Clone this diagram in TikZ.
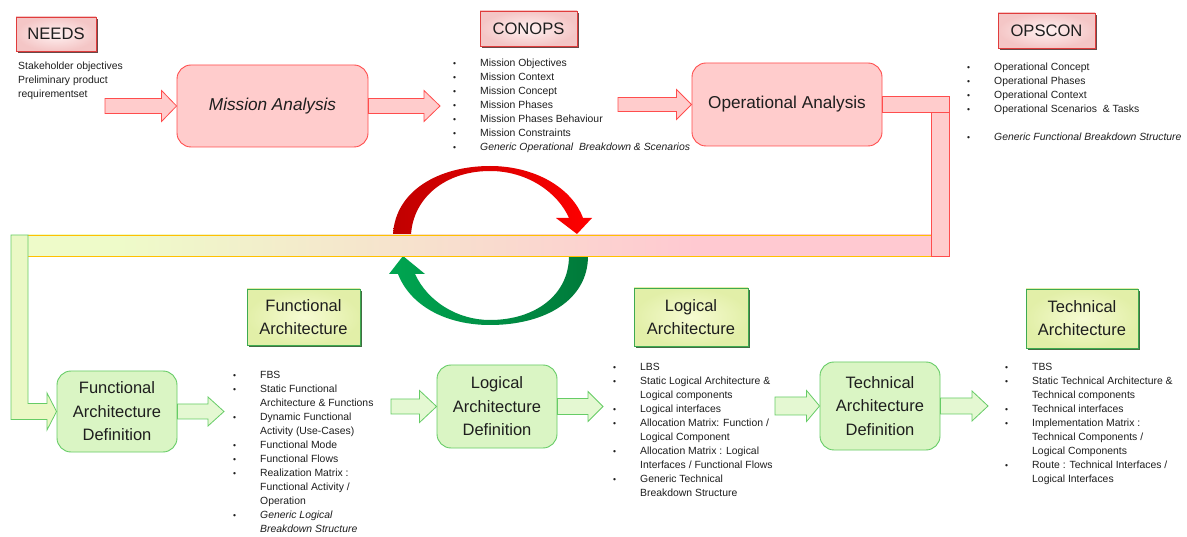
\documentclass[tikz,border=0pt]{standalone}
\usepackage{fontspec}
\setmainfont{Liberation Sans}
\usetikzlibrary{calc,shadows}
\definecolor{pinkfill}{HTML}{FFCCCC}
\definecolor{pinkline}{HTML}{FF4D4D}
\definecolor{grfill}{HTML}{DAF5C4}
\definecolor{grline}{HTML}{66CC66}
\definecolor{garfill}{HTML}{E4F8D2}
\definecolor{bandgreen}{HTML}{EEFBC9}
\definecolor{bandpink}{HTML}{FFC9D1}
\definecolor{orangeline}{HTML}{FFC000}
\definecolor{lbandfill}{HTML}{EAF8C5}
\definecolor{tgin}{HTML}{F6FBD2}
\definecolor{tgout}{HTML}{E2EFA8}
\definecolor{tgline}{HTML}{3DAA50}
\definecolor{tgshadow}{HTML}{2E5E2E}
\definecolor{tpin}{HTML}{FFF2F2}
\definecolor{tpout}{HTML}{F4C6C6}
\definecolor{tpline}{HTML}{E03C3C}
\definecolor{tpshadow}{HTML}{5B3535}
\definecolor{redA}{HTML}{C00000}
\definecolor{redB}{HTML}{FF0000}
\definecolor{greenA}{HTML}{00A651}
\definecolor{greenB}{HTML}{007A3A}
\definecolor{txt}{HTML}{1E1E1E}
\pgfdeclarehorizontalshading{bandshade}{100bp}{color(0bp)=(bandgreen); color(30bp)=(bandgreen); color(62bp)=(bandpink); color(100bp)=(bandpink)}
\newcommand\listfont{\fontsize{10.4}{14}\selectfont}
\newcommand\lbul{\makebox[27pt][l]{\fontsize{8.5}{8.5}\selectfont\textbullet}}
\newcommand\lnob{\hspace*{27pt}}
\newcommand\blockarrow[6]{%
  \draw[#1] let \p1=(#2), \p2=(#3) in
    (\x1,\y1+#4) -- (\x2-#6,\y1+#4) -- (\x2-#6,\y1+#5) -- (\x2,\y1)
    -- (\x2-#6,\y1-#5) -- (\x2-#6,\y1-#4) -- (\x1,\y1-#4) -- cycle;}
\tikzset{
  pkbox/.style={rounded corners=14pt, draw=pinkline, fill=pinkfill, line width=0.9pt,
    font=\fontsize{17.2}{20}\selectfont, text=txt, inner sep=0pt},
  grbox/.style={rounded corners=14pt, draw=grline, fill=grfill, line width=0.9pt,
    align=center, font=\fontsize{16.5}{23.5}\selectfont, text=txt, inner sep=0pt},
  titlepk/.style={draw=tpline, line width=0.9pt, inner color=tpin, outer color=tpout,
    font=\fontsize{16.6}{20}\selectfont, text=txt, inner sep=0pt,
    drop shadow={shadow xshift=1.6pt, shadow yshift=-1.6pt, fill=tpshadow, opacity=0.9}},
  titlegr/.style={draw=tgline, line width=0.9pt, inner color=tgin, outer color=tgout,
    align=center, font=\fontsize{16.5}{23}\selectfont, text=txt, inner sep=0pt,
    drop shadow={shadow xshift=1.6pt, shadow yshift=-1.6pt, fill=tgshadow, opacity=0.9}},
  parrow/.style={draw=pinkline, fill=pinkfill, line width=0.8pt},
  garrow/.style={draw=grline, fill=garfill, line width=0.8pt},
  lst/.style={anchor=base west, inner sep=0pt, font=\listfont, text=txt},
}
\begin{document}
\begin{tikzpicture}[x=1pt,y=-1pt]
\useasboundingbox (0,0) rectangle (1187,537);
\fill[white] (0,0) rectangle (1187,537);

% cycle arrows (behind the band)
\shade[left color=redA, right color=redB]
  (393,246) -- (393,235) .. controls (395,190) and (440,166) .. (490,166)
  .. controls (535,166) and (572,188) .. (583,218) -- (592,218) -- (577,234)
  -- (556,218) -- (569,218) .. controls (558,193) and (528,171) .. (490,171)
  .. controls (445,171) and (413,198) .. (411,235) -- (411,246) -- cycle;
\shade[left color=greenA, right color=greenB]
  (588,245) -- (588,256) .. controls (588,300) and (545,325) .. (490,325)
  .. controls (445,325) and (410,305) .. (398,274) -- (389,274) -- (403,256)
  -- (425,274) -- (415,274) .. controls (428,302) and (458,320) .. (490,320)
  .. controls (535,320) and (569,295) .. (569,256) -- (569,245) -- cycle;

% title boxes
\node[titlepk, minimum width=80pt, minimum height=34pt] (needs) at (56,34) {NEEDS};
\node[titlepk, minimum width=97pt, minimum height=35pt] (conops) at (528.5,28.5) {CONOPS};
\node[titlepk, minimum width=97pt, minimum height=35pt] (opscon) at (1046.5,30.5) {OPSCON};
\node[titlegr, minimum width=113pt, minimum height=56pt] (fa) at (303.5,317) {Functional\\Architecture};
\node[titlegr, minimum width=114pt, minimum height=58pt] (la) at (691,317) {Logical\\Architecture};
\node[titlegr, minimum width=112pt, minimum height=59pt] (ta) at (1082,318.5) {Technical\\Architecture};

% process boxes
\node[pkbox, minimum width=191pt, minimum height=82pt] (ma) at (272.5,106) {\textit{Mission Analysis}};
\node[pkbox, minimum width=190pt, minimum height=83pt] (oa) at (787,104.5) {Operational Analysis};
\node[grbox, minimum width=120pt, minimum height=81pt] (fad) at (117,411.5) {Functional\\Architecture\\Definition};
\node[grbox, minimum width=120pt, minimum height=83pt] (lad) at (497,406.5) {Logical\\Architecture\\Definition};
\node[grbox, minimum width=120pt, minimum height=88pt] (tad) at (880,406) {Technical\\Architecture\\Definition};

% band from Operational Analysis back to Functional Architecture Definition
\coordinate (bandL) at (28,235);
\coordinate (bandR) at (931,256);
\shade[shading=bandshade] (bandL) rectangle (bandR);
\draw[orangeline, line width=0.9pt] (28,235) -- (931,235) (28,256) -- (931,256);
\draw[pinkline, fill=pinkfill, line width=0.8pt] ($(oa.east)+(0,-8.5)$) rectangle (949,112.5);
\draw[pinkline, fill=pinkfill, line width=0.8pt] (931,112.5) rectangle (949,256);
\draw[grline, fill=lbandfill, line width=0.8pt]
  (11,235) -- (28,235) -- (28,403.5) -- (47,403.5) -- (47,393) -- (fad.west)
  -- (47,430) -- (47,419.5) -- (11,419.5) -- cycle;

% pink block arrows
\coordinate (main) at (105,106);
\coordinate (maout) at (440,106);
\coordinate (oain) at (618,104.5);
\blockarrow{parrow}{main}{ma.west}{7.5pt}{15.5pt}{15pt}
\blockarrow{parrow}{ma.east}{maout}{7.5pt}{15.5pt}{16pt}
\blockarrow{parrow}{oain}{oa.west}{7pt}{15pt}{15pt}

% green block arrows
\coordinate (fadout) at (224,411.5);
\coordinate (ladin) at (391,406.5);
\coordinate (ladout) at (603,406.5);
\coordinate (tadin) at (775,406);
\coordinate (tadout) at (988,406);
\blockarrow{garrow}{fad.east}{fadout}{7.5pt}{14.5pt}{16pt}
\blockarrow{garrow}{ladin}{lad.west}{7.5pt}{16pt}{17pt}
\blockarrow{garrow}{lad.east}{ladout}{8pt}{15pt}{15pt}
\blockarrow{garrow}{tadin}{tad.west}{9pt}{15.5pt}{13pt}
\blockarrow{garrow}{tad.east}{tadout}{8pt}{15pt}{16pt}

% texts
\foreach \t [count=\i from 0] in {{Stakeholder objectives},{Preliminary product},{requirementset}}
  {\node[lst] (nd\i) at (18,{69.5+14*\i}) {\t};}
\foreach \t [count=\i from 0] in {{\lbul Mission Objectives},{\lbul Mission Context},{\lbul Mission Concept},{\lbul Mission Phases},{\lbul Mission Phases Behaviour},{\lbul Mission Constraints},{\lbul\textit{Generic Operational\ \ Breakdown \& Scenarios}}}
  {\node[lst] (co\i) at (453,{66.5+14*\i}) {\t};}
\foreach \t [count=\i from 0] in {{\lbul Operational Concept},{\lbul Operational Phases},{\lbul Operational Context},{\lbul Operational Scenarios\ \ \& Tasks},{},{\lbul\textit{Generic Functional Breakdown Structure}}}
  {\node[lst] (op\i) at (967,{70.5+14*\i}) {\t};}
\foreach \t [count=\i from 0] in {{\lbul FBS},{\lbul Static Functional},{\lnob Architecture \& Functions},{\lbul Dynamic Functional},{\lnob Activity (Use-Cases)},{\lbul Functional Mode},{\lbul Functional Flows},{\lbul Realization Matrix :},{\lnob Functional Activity /},{\lnob Operation},{\lbul\textit{Generic Logical}},{\lnob\textit{Breakdown Structure}}}
  {\node[lst] (fl\i) at (233,{378.5+14*\i}) {\t};}
\foreach \t [count=\i from 0] in {{\lbul LBS},{\lbul Static Logical Architecture \&},{\lnob Logical components},{\lbul Logical interfaces},{\lbul Allocation Matrix: Function /},{\lnob Logical Component},{\lbul Allocation Matrix : Logical},{\lnob Interfaces / Functional Flows},{\lbul Generic Technical},{\lnob Breakdown Structure}}
  {\node[lst] (ll\i) at (613,{370.5+14*\i}) {\t};}
\foreach \t [count=\i from 0] in {{\lbul TBS},{\lbul Static Technical Architecture \&},{\lnob Technical components},{\lbul Technical interfaces},{\lbul Implementation Matrix :},{\lnob Technical Components /},{\lnob Logical Components},{\lbul Route : Technical Interfaces /},{\lnob Logical Interfaces}}
  {\node[lst] (tl\i) at (1005,{370.5+14*\i}) {\t};}
\end{tikzpicture}
\end{document}
